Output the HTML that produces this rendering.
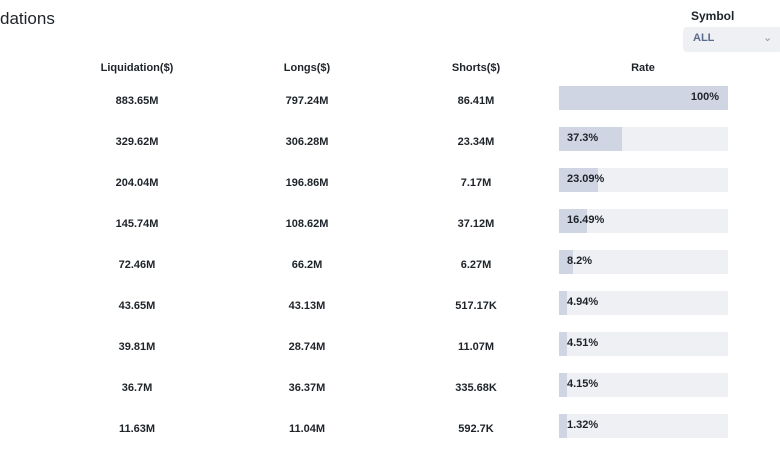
<!DOCTYPE html>
<html><head><meta charset="utf-8"><style>
body{margin:0;width:780px;height:470px;background:#fff;font-family:"Liberation Sans",sans-serif;color:#1e2329;position:relative;overflow:hidden}
.abs{position:absolute}
.t{font-size:11px;font-weight:bold;text-align:center;width:140px;margin-left:-70px;line-height:14px}
</style></head><body>
<div class="abs" style="left:0;top:9px;font-size:17px;">dations</div>
<div class="abs" style="left:691px;top:9px;font-size:12px;font-weight:bold">Symbol</div>
<div class="abs" style="left:683px;top:27px;width:100px;height:25px;background:#eef0f4;border-radius:4px">
<span style="position:absolute;left:10px;top:5px;font-size:11px;font-weight:bold;color:#5b6b8c">ALL</span>
<span style="position:absolute;left:80px;top:4px;font-size:11px;color:#8a94a6">&#8964;</span></div>
<div id="tbl"></div>
<script>
const liq=["883.65M","329.62M","204.04M","145.74M","72.46M","43.65M","39.81M","36.7M","11.63M"];
const longs=["797.24M","306.28M","196.86M","108.62M","66.2M","43.13M","28.74M","36.37M","11.04M"];
const shorts=["86.41M","23.34M","7.17M","37.12M","6.27M","517.17K","11.07M","335.68K","592.7K"];
const rates=[100,37.3,23.09,16.49,8.2,4.94,4.51,4.15,1.32];
const headers=["Liquidation($)","Longs($)","Shorts($)","Rate"];
const tbl=document.getElementById('tbl');
const cx=[137,307,476,643];
function txt(s,x,y,name){const d=document.createElement('div');d.className='abs t';d.style.left=x+'px';d.style.top=y+'px';d.textContent=s;


tbl.appendChild(d);return d;}
headers.forEach((h,i)=>txt(h,cx[i],61,'header-'+i));
const bx=559,bw=169,bh=24,y0=86,dy=41;
rates.forEach((r,i)=>{
 const y=y0+i*dy;
 txt(liq[i],cx[0],y+8,'liquidation-value');
 txt(longs[i],cx[1],y+8,'longs-value');
 txt(shorts[i],cx[2],y+8,'shorts-value');
 const bg=document.createElement('div');bg.className='abs';
 
 
 bg.style.cssText=`left:${bx}px;top:${y}px;width:${bw}px;height:${bh}px;background:#eef0f4`;
 const f=document.createElement('div');f.className='abs';
 
 
 f.style.cssText=`left:0;top:0;width:${Math.max(8,r/100*bw)}px;height:${bh}px;background:#cfd5e2`;
 bg.appendChild(f);
 const l=document.createElement('div');l.className='abs';
 
 
 l.textContent=r+'%';
 l.style.cssText=`top:4px;font-size:11px;font-weight:bold;line-height:14px;`+(r>=100?'right:9px':'left:8px');
 bg.appendChild(l);
 tbl.appendChild(bg);
});
</script>
</body></html>
